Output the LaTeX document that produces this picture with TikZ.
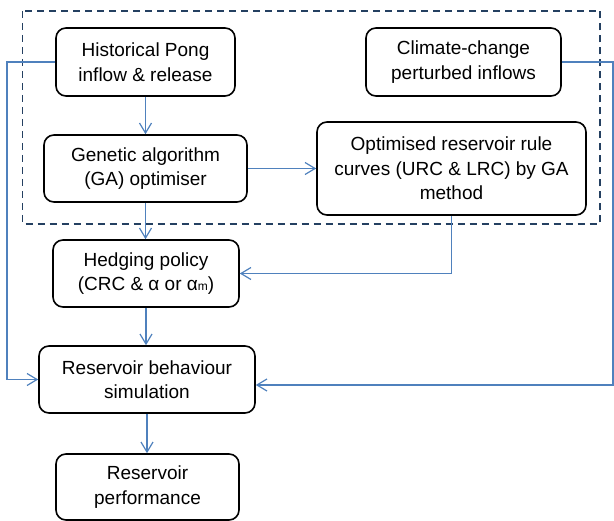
\documentclass[tikz,border=0pt]{standalone}
\usepackage{fontspec}
\setmainfont{Liberation Sans}
\usetikzlibrary{arrows.meta}
\definecolor{connblue}{RGB}{79,129,189}
\definecolor{dashnavy}{RGB}{36,64,97}
\tikzset{
  box/.style={draw=black, line width=1.6pt, rounded corners=10pt, align=center,
    font=\fontsize{19}{24.5}\selectfont, inner sep=0pt},
  conn/.style={draw=connblue, line width=1.2pt,
    -{Straight Barb[length=10pt,width=12pt,line width=1.2pt]}},
  plainconn/.style={draw=connblue, line width=1.2pt},
  dashbox/.style={draw=dashnavy, line width=1.5pt, dash pattern=on 7pt off 5pt}
}
\begin{document}
\begin{tikzpicture}[x=1pt,y=-1pt]
\useasboundingbox (0,0) rectangle (614,521);
% dashed group
\draw[dashbox] (22.5,11) rectangle (600,224);
% nodes
\node[box, minimum width=179pt, minimum height=68pt] (hist) at (145.5,62) {Historical Pong\\inflow \& release};
\node[box, minimum width=203pt, minimum height=67pt] (ga) at (145.5,168.5) {Genetic algorithm\\(GA) optimiser};
\node[box, minimum width=195pt, minimum height=68pt] (clim) at (463.5,62) {Climate-change\\perturbed inflows};
\node[box, minimum width=269pt, minimum height=93pt] (opt) at (451.5,168.5) {Optimised reservoir rule\\curves (URC \& LRC) by GA\\method};
\node[box, minimum width=186pt, minimum height=67pt] (hedge) at (146,273.5) {Hedging policy\\(CRC \& α or α{\fontsize{12}{12}\selectfont m})};
\node[box, minimum width=216pt, minimum height=67pt] (rbs) at (147,379.5) {Reservoir behaviour\\simulation};
\node[box, minimum width=183pt, minimum height=66pt] (perf) at (147.5,487) {Reservoir\\performance};
% helper coordinates
\coordinate (lft) at (7,0);
\coordinate (rgt) at (613,0);
\coordinate (rgtb) at (613,385);
% connectors
\draw[conn] (hist.south) -- (ga.north);
\draw[conn] (ga.east) -- (opt.west);
\draw[conn] (ga.south) -- (ga.south |- hedge.north);
\draw[conn] (opt.south) |- (hedge.east);
\draw[conn] (hedge.south) -- (hedge.south |- rbs.north);
\draw[conn] (rbs.south) -- (rbs.south |- perf.north);
\draw[conn] (hist.west) -- (hist.west -| lft) -- (lft |- rbs.west) -- (rbs.west);
\draw[conn] (clim.east) -- (clim.east -| rgt) -- (rgtb) -- (rgtb -| rbs.east);
\end{tikzpicture}
\end{document}
